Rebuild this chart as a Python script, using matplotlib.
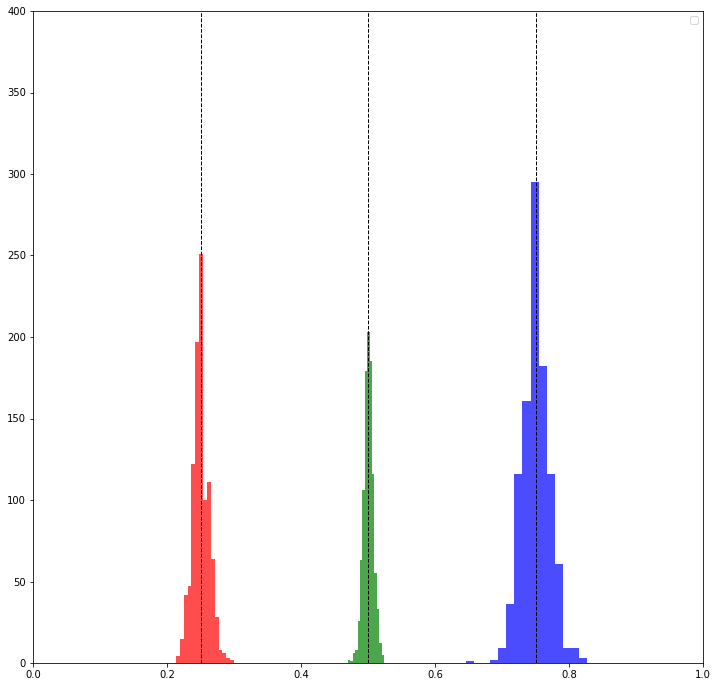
import matplotlib
matplotlib.use("Agg")
import matplotlib.pyplot as plt
import numpy as np

# Histogram counts (15 bins each)
red_range = (0.2134, 0.3000)
red_counts = [4, 15, 42, 47, 122, 197, 251, 100, 111, 64, 28, 8, 6, 3, 2]

green_range = (0.4701, 0.5239)
green_counts = [2, 1, 6, 8, 26, 63, 106, 179, 203, 185, 116, 55, 33, 12, 5]

blue_range = (0.6463, 0.8269)
blue_counts = [1, 0, 0, 2, 9, 36, 116, 161, 295, 182, 116, 61, 9, 9, 3]

true_values = [0.25, 0.5, 0.75]
colors = ["red", "green", "blue"]

fig = plt.figure(figsize=(717 / 72, 687 / 72), dpi=72)
ax = fig.add_axes([33 / 717, 1 - 663 / 687, 670 / 717, 652 / 687])

for rng, counts, c in [(red_range, red_counts, "red"),
                       (green_range, green_counts, "green"),
                       (blue_range, blue_counts, "blue")]:
    edges = np.linspace(rng[0], rng[1], len(counts) + 1)
    centers = (edges[:-1] + edges[1:]) / 2
    ax.hist(centers, bins=edges, weights=counts, color=c, alpha=0.7)

for v in true_values:
    ax.axvline(v, color="black", linestyle="--", linewidth=1)

ax.set_xlim(0, 1)
ax.set_ylim(0, 400)
ax.legend(handles=[], loc="upper right")

fig.savefig("out.png", dpi=72)
